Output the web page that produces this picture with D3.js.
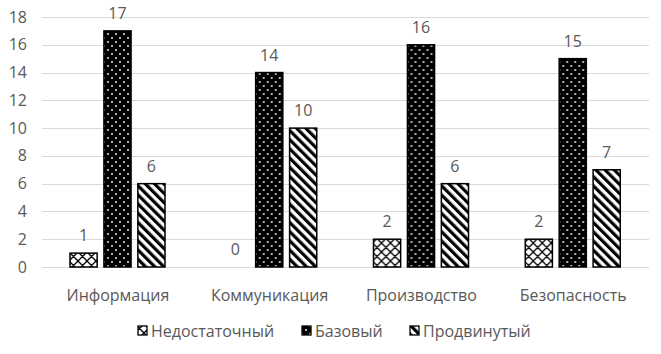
<!DOCTYPE html>
<html>
<head>
<meta charset="utf-8">
<script src="https://cdn.jsdelivr.net/npm/d3@7"></script>
<style>
  body { margin: 0; background: #fff; }
  text { font-family: "Open Sans", sans-serif; fill: #595959; }
</style>
</head>
<body>
<div id="main"></div>
<script>
const categories = ["Информация", "Коммуникация", "Производство", "Безопасность"];
const seriesNames = ["Недостаточный", "Базовый", "Продвинутый"];
const nedostatochny = [1, 0, 2, 2];
const bazovy = [17, 14, 16, 15];
const prodvinuty = [6, 10, 6, 7];
const yTicks = [0, 2, 4, 6, 8, 10, 12, 14, 16, 18];

const seriesValues = [nedostatochny, bazovy, prodvinuty];
const patternIds = ["pCross", "pDots", "pStripes"];

const width = 661, height = 354;
const FONT = '16px';

const svg = d3.select('#main')
    .append('svg')
    .attr('width', width)
    .attr('height', height);

// patterns
const defs = svg.append('defs');

let pc = defs.append('pattern').attr('id', 'pCross')
    .attr('patternUnits', 'userSpaceOnUse')
    .attr('width', 9).attr('height', 9);
pc.append('rect').attr('width', 9).attr('height', 9).attr('fill', '#fff');
pc.append('path').attr('d', 'M0,0L9,9M9,0L0,9M-1,8L1,10M8,-1L10,1')
    .attr('stroke', '#000').attr('stroke-width', 1.3);

let pd = defs.append('pattern').attr('id', 'pDots')
    .attr('patternUnits', 'userSpaceOnUse')
    .attr('width', 8).attr('height', 8);
pd.append('rect').attr('width', 8).attr('height', 8).attr('fill', '#000');
pd.append('circle').attr('cx', 2).attr('cy', 2).attr('r', 0.9).attr('fill', '#fff');
pd.append('circle').attr('cx', 6).attr('cy', 6).attr('r', 0.9).attr('fill', '#fff');

let ps = defs.append('pattern').attr('id', 'pStripes')
    .attr('patternUnits', 'userSpaceOnUse')
    .attr('width', 6.5).attr('height', 6.5)
    .attr('patternTransform', 'rotate(-45)');
ps.append('rect').attr('width', 6.5).attr('height', 6.5).attr('fill', '#fff');
ps.append('line').attr('x1', 1.6).attr('x2', 1.6).attr('y1', 0).attr('y2', 6.5)
    .attr('stroke', '#000').attr('stroke-width', 3.2);

// scales
const x0 = d3.scaleBand().domain(categories).range([42, 649]);
const x1 = d3.scaleBand().domain(seriesNames).range([28, 123]).paddingInner(0.2);
const y = d3.scaleLinear().domain([0, 18]).range([267, 17]);

// gridlines
svg.append('g')
    .selectAll('line')
    .data(yTicks)
    .enter()
    .append('line')
    .attr('x1', 42).attr('x2', 649)
    .attr('y1', d => Math.round(y(d)) + 0.5)
    .attr('y2', d => Math.round(y(d)) + 0.5)
    .attr('stroke', '#d9d9d9')
    .attr('stroke-width', 1);

// y axis labels
svg.append('g')
    .selectAll('text')
    .data(yTicks)
    .enter()
    .append('text')
    .attr('x', 27)
    .attr('y', d => y(d))
    .attr('dy', '0.35em')
    .attr('text-anchor', 'end')
    .style('font-size', FONT)
    .text(d => d);

// bars
categories.forEach((cat, ci) => {
    const g = svg.append('g').attr('transform', `translate(${x0(cat)},0)`);
    seriesNames.forEach((s, si) => {
        const v = seriesValues[si][ci];
        if (v > 0) {
            g.append('rect')
                .attr('x', x1(s))
                .attr('y', y(v))
                .attr('width', x1.bandwidth())
                .attr('height', y(0) - y(v))
                .attr('fill', `url(#${patternIds[si]})`)
                .attr('stroke', '#000')
                .attr('stroke-width', 1.5);
        }
        g.append('text')
            .attr('x', x1(s) + x1.bandwidth() / 2)
            .attr('y', y(v) - 12)
            .attr('text-anchor', 'middle')
            .style('font-size', FONT)
            .text(v);
    });
});

// category labels
svg.append('g')
    .selectAll('text')
    .data(categories)
    .enter()
    .append('text')
    .attr('x', d => x0(d) + x0.bandwidth() / 2)
    .attr('y', 301)
    .attr('text-anchor', 'middle')
    .style('font-size', FONT)
    .text(d => d);

// legend
const legendX = [138, 302, 410];
seriesNames.forEach((s, i) => {
    svg.append('rect')
        .attr('x', legendX[i]).attr('y', 326)
        .attr('width', 9).attr('height', 9)
        .attr('fill', `url(#${patternIds[i]})`)
        .attr('stroke', '#000').attr('stroke-width', 1.3);
    svg.append('text')
        .attr('x', legendX[i] + 13).attr('y', 336.5)
        .style('font-size', FONT)
        .text(s);
});
</script>
</body>
</html>
